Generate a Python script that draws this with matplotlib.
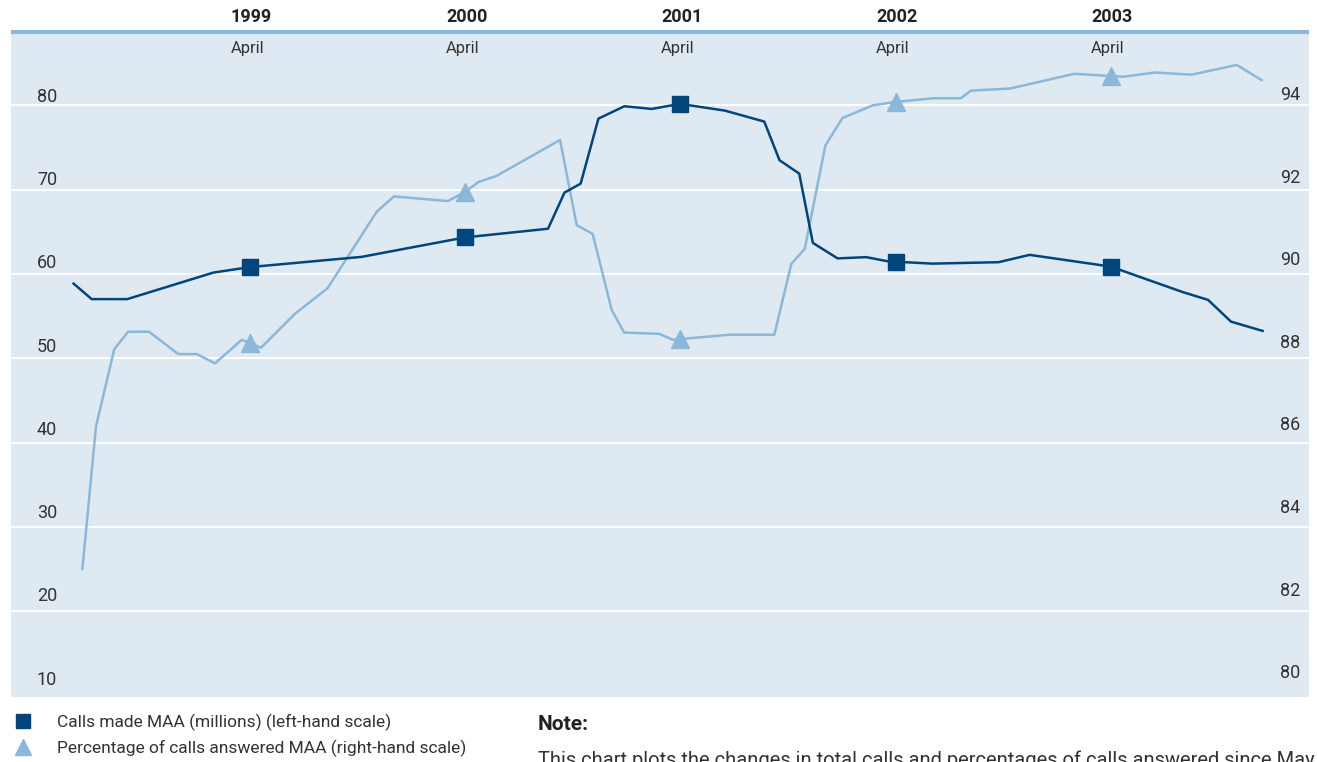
import numpy as np
import matplotlib
matplotlib.use("Agg")
import matplotlib.pyplot as plt
from matplotlib import font_manager
from matplotlib.lines import Line2D
from matplotlib.patches import Rectangle

# ---------------- data ----------------
# x = months relative to April 1999 (0 = Apr 1999, 12 = Apr 2000, ...)
calls_x = [-9.84, -8.83, -6.85, -2.04, 0.0, 6.22, 11.99, 16.62, 17.54, 18.44,
           19.43, 20.88, 22.4, 23.98, 26.49, 28.68, 29.53, 30.63, 31.39, 32.77,
           34.36, 35.56, 36.01, 38.04, 41.75, 43.48, 48.0, 50.36, 52.04, 53.43,
           54.71, 56.47]
calls_millions = [58.86, 57.02, 57.02, 60.17, 60.82, 62.03, 64.34, 65.37, 69.66, 70.72,
                  78.43, 79.9, 79.58, 80.18, 79.38, 78.08, 73.5, 71.91, 63.69, 61.85,
                  62.0, 61.51, 61.46, 61.23, 61.4, 62.27, 60.88, 59.1, 57.84, 56.93,
                  54.35, 53.25]

answered_x = [-9.35, -8.59, -7.57, -6.79, -5.63, -4.0, -2.97, -1.95, -0.46, 0.61,
              2.49, 4.32, 7.07, 8.03, 11.03, 12.0, 12.73, 13.76, 17.29, 18.22,
              19.11, 20.17, 20.86, 22.83, 23.57, 26.77, 29.24, 30.19, 30.94, 32.09,
              33.04, 34.72, 35.95, 38.1, 39.64, 40.2, 42.39, 45.97, 47.87, 48.71,
              50.47, 52.52, 55.03, 56.42]
answered_pct = [83.0, 86.38, 88.22, 88.63, 88.63, 88.1, 88.1, 87.88, 88.44, 88.25,
                89.05, 89.66, 91.48, 91.84, 91.73, 91.95, 92.18, 92.33, 93.18, 91.16,
                90.95, 89.15, 88.61, 88.58, 88.44, 88.56, 88.56, 90.24, 90.6, 93.05,
                93.7, 94.0, 94.08, 94.17, 94.17, 94.35, 94.4, 94.75, 94.7, 94.68,
                94.78, 94.73, 94.96, 94.6]

april_x = [0, 12, 24, 36, 48]
year_labels = ["1999", "2000", "2001", "2002", "2003"]
month_label = "April"
left_ticks = [10, 20, 30, 40, 50, 60, 70, 80]
right_ticks = [80, 82, 84, 86, 88, 90, 92, 94]

legend_labels = ["Calls made MAA (millions) (left-hand scale)",
                 "Percentage of calls answered MAA (right-hand scale)"]
note_title = "Note:"
note_text = ("This chart plots the changes in total calls and percentages of "
             "calls answered since May")

# ---------------- style ----------------
DARK = "#00467e"
LIGHT = "#8bb8d9"
BG = "#dfe9f2"
BAND = "#8cb7da"
TXT = "#333333"

names = {f.name for f in font_manager.fontManager.ttflist}
COND = "Liberation Sans Narrow" if "Liberation Sans Narrow" in names else "Roboto"
plt.rcParams["font.family"] = [COND, "DejaVu Sans"]

W, H = 1317, 762
fig = plt.figure(figsize=(W / 100, H / 100), dpi=100)
fig.patch.set_facecolor("white")

left_px, right_px, top_px, bot_px = 11, 1309, 34, 697
ax = fig.add_axes([left_px / W, (H - bot_px) / H,
                   (right_px - left_px) / W, (bot_px - top_px) / H])
ax.set_facecolor(BG)
ax.set_xlim(-13.33, 59.06)
ylo, yhi = 9.82, 88.47
ax.set_ylim(ylo, yhi)
ax2 = ax.twinx()
ax2.set_ylim(ylo / 5 + 78, yhi / 5 + 78)
ax2.patch.set_visible(False)


def to_right(v):
    return np.asarray(v, dtype=float) / 5 + 78


for a in (ax, ax2):
    for s in a.spines.values():
        s.set_visible(False)
    a.tick_params(length=0, labelleft=False, labelright=False,
                  labelbottom=False, labeltop=False)
ax.set_xticks([])
ax.set_yticks(left_ticks[1:])          # the lowest value sits on the panel edge
ax2.set_yticks([])
ax.grid(axis="y", color="white", lw=1.5)
ax.set_axisbelow(True)

# lines (both drawn on the right-hand axis; calls converted to its scale)
ax2.plot(answered_x, answered_pct, color=LIGHT, lw=1.8, zorder=3)
ax2.plot(april_x, np.interp(april_x, answered_x, answered_pct), "^",
         color=LIGHT, ms=12.5, zorder=4)
ax2.plot(calls_x, to_right(calls_millions), color=DARK, lw=1.8, zorder=5)
ax2.plot(april_x, to_right(np.interp(april_x, calls_x, calls_millions)), "s",
         color=DARK, ms=11, zorder=6)

# y labels (sit above gridlines)
for v in left_ticks:
    off_px = 8.7 + (80 - v) * 0.1
    ax.annotate(str(v), xy=(47 / W, v), xycoords=("figure fraction", "data"),
                xytext=(0, off_px * 0.72), textcoords="offset points",
                ha="center", va="center", fontsize=13, color=TXT)
for r in right_ticks:
    off_px = 10.4 + (94 - r) * 0.85
    ax2.annotate(str(r), xy=(1290 / W, r), xycoords=("figure fraction", "data"),
                 xytext=(0, off_px * 0.72), textcoords="offset points",
                 ha="center", va="center", fontsize=13, color=TXT)

# top band
ax.add_patch(Rectangle((0, 1.0), 1, 4 / (bot_px - top_px), transform=ax.transAxes,
                       color=BAND, clip_on=False, lw=0))

# x labels
for m, yl in zip(april_x, year_labels):
    ax.annotate(month_label, xy=(m, 1 - 48 / H), xycoords=("data", "figure fraction"),
                xytext=(-2, 0), textcoords="offset points",
                ha="center", va="center", fontsize=12, color=TXT)
    ax.annotate(yl, xy=(m, 1 - 17 / H), xycoords=("data", "figure fraction"),
                xytext=(1, 0), textcoords="offset points",
                ha="center", va="center", fontsize=13, fontweight="bold",
                color="#222222")

# legend
fig.add_artist(Line2D([23 / W], [1 - 721 / H], marker="s", ms=10, color=DARK,
                      transform=fig.transFigure, linestyle="none"))
fig.add_artist(Line2D([23 / W], [1 - 747 / H], marker="^", ms=11, color=LIGHT,
                      transform=fig.transFigure, linestyle="none"))
fig.text(57 / W, 1 - 722 / H, legend_labels[0], ha="left", va="center",
         fontsize=12.5, color=TXT)
fig.text(57 / W, 1 - 748 / H, legend_labels[1], ha="left", va="center",
         fontsize=12.5, color=TXT)

# note
fig.text(538 / W, 1 - 725 / H, note_title, ha="left", va="center",
         fontsize=15, fontweight="bold", color="#222222")
fig.text(538 / W, 1 - 766 / H, note_text, ha="left", va="baseline",
         fontsize=14.5, color=TXT)

fig.savefig("out.png", dpi=100)
